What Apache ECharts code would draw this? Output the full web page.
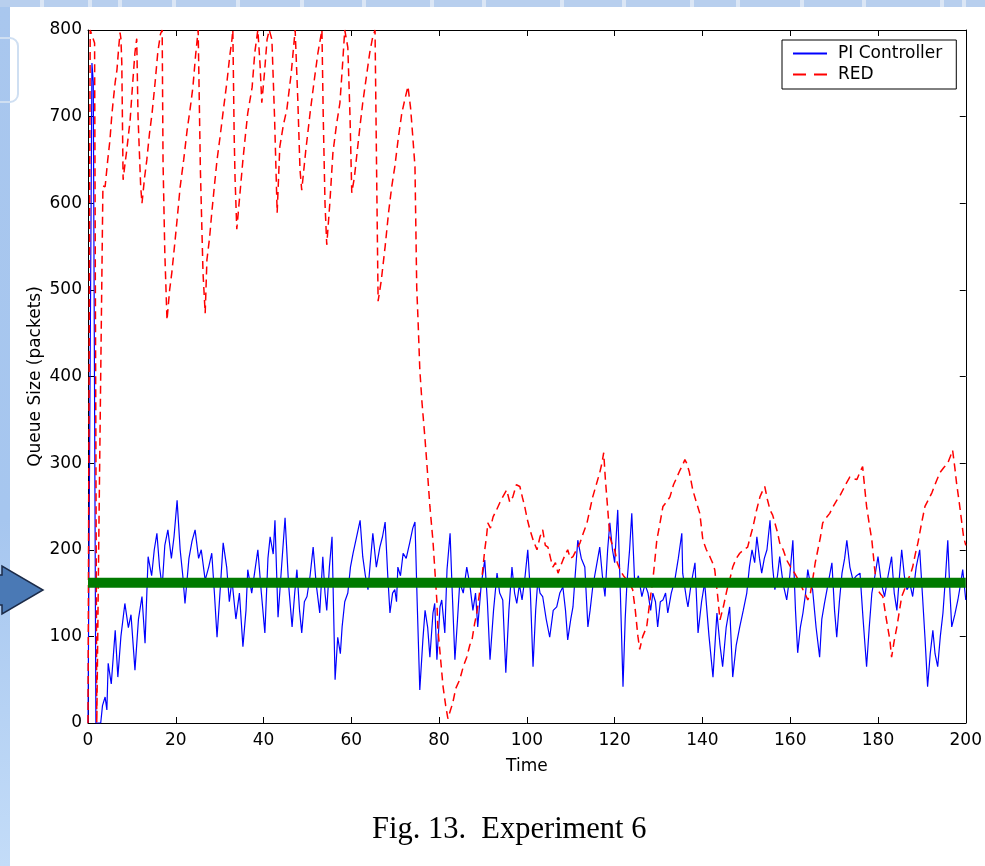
<!DOCTYPE html>
<html>
<head>
<meta charset="utf-8">
<script src="https://cdn.jsdelivr.net/npm/echarts@6/dist/echarts.min.js"></script>
<style>
  html, body { margin: 0; padding: 0; background: #fff; }
  #chart { width: 985px; height: 866px; }
</style>
</head>
<body>
<div id="chart"></div>
<script>
// values: [time, queue size in packets]
let piController = [
  [0,0],[0.4,0],[0.9,762],[1.2,740],[1.8,0],[2.9,0],[3.3,20],[3.9,30],[4.3,15],[4.6,69],[5.3,45],[6.2,107],[6.8,53],[7.5,100],
  [8.4,138],[9.2,110],[9.8,125],[10.7,61],[11.5,120],[12.3,146],[13,92],[13.7,192],[14.5,170],[15.1,200],[15.7,219],[16.3,180],
  [16.9,157],[17.5,205],[18.2,223],[19,190],[19.6,215],[20.3,257],[21,200],[21.6,170],[22.1,138],[23,190],[23.7,210],[24.4,223],
  [25.2,190],[25.8,200],[26.7,165],[27.5,180],[28.2,196],[28.8,150],[29.4,99],[30.2,160],[30.8,208],[31.6,180],[32.2,140],
  [32.8,165],[33.7,120],[34.5,150],[35.3,88],[36,130],[36.4,177],[37.3,150],[38,175],[38.7,200],[39.5,150],[40.3,104],[41,190],
  [41.5,215],[42.2,195],[42.6,234],[43.3,122],[44.1,180],[44.9,237],[45.7,160],[46.5,111],[47.1,150],[47.6,177],[48.2,130],
  [48.7,104],[49.3,140],[49.9,146],[50.6,170],[51.3,203],[52,160],[52.8,127],[53.5,192],[54,150],[54.4,130],[55,180],[55.6,215],
  [56,120],[56.3,50],[56.9,99],[57.5,80],[57.9,111],[58.5,140],[59.2,150],[59.8,180],[60.4,196],[61.2,215],[62,234],[62.6,192],
  [63.2,170],[63.8,154],[64.4,190],[64.9,219],[65.7,180],[66.5,203],[67.1,215],[67.7,232],[68.3,170],[68.8,127],[69.4,150],
  [69.9,154],[70.3,140],[70.6,180],[71.2,170],[71.8,196],[72.5,190],[73.3,208],[74,225],[74.5,232],[75,140],[75.6,38],[76.3,96],
  [76.8,130],[77.4,110],[77.9,76],[78.6,127],[79,138],[79.5,73],[80.2,134],[80.6,142],[81.3,104],[81.8,177],[82.5,219],[83,150],
  [83.6,73],[84.2,120],[84.7,162],[85.5,150],[86.3,180],[87,160],[87.7,130],[88.3,150],[88.8,111],[89.6,160],[90.4,188],[91,140],
  [91.6,73],[92.4,130],[93.2,173],[93.8,150],[94.5,142],[95.2,58],[95.9,130],[96.6,180],[97.2,150],[97.7,138],[98.3,160],
  [98.9,142],[99.6,170],[100.2,200],[100.8,150],[101.4,65],[102,130],[102.5,165],[103,150],[103.6,146],[104.4,120],[105.2,99],
  [106,130],[106.8,134],[107.5,150],[108.2,157],[108.8,130],[109.3,96],[110,120],[110.5,134],[111,170],[111.6,211],[112.4,190],
  [113.2,180],[113.9,111],[114.4,130],[115,157],[115.8,180],[116.6,203],[117.2,170],[117.8,146],[118.4,200],[118.9,231],
  [119.5,200],[120,185],[120.7,246],[121.3,150],[121.9,42],[122.4,120],[122.8,162],[123.4,200],[123.9,242],[124.6,157],
  [125.4,170],[126.2,146],[126.9,160],[127.6,150],[128.2,130],[128.7,150],[129.3,140],[129.8,111],[130.4,140],[131,142],
  [131.6,150],[132.1,127],[132.9,150],[133.7,165],[134.5,190],[135.3,219],[135.5,173],[136.4,142],[136.7,134],[137.4,160],
  [138.3,185],[139,104],[139.8,140],[140.5,162],[141.5,100],[142.4,53],[143.3,127],[144,90],[144.6,65],[145.4,110],[146.2,134],
  [146.9,53],[147.7,90],[148.5,111],[149.3,130],[150.1,150],[150.7,180],[151.3,200],[151.9,185],[152.4,215],[153,190],[153.5,173],
  [154.1,190],[154.7,200],[155.4,234],[156,180],[156.5,154],[157.1,170],[157.6,192],[158.4,160],[159.2,142],[159.9,170],
  [160.6,211],[161.2,130],[161.7,81],[162.3,110],[162.9,127],[163.5,150],[164,177],[164.6,160],[165.1,154],[165.9,110],[166.7,76],
  [167.2,120],[167.8,138],[168.6,160],[169.5,185],[170.1,130],[170.6,99],[171.2,140],[171.8,173],[172.4,190],[172.9,211],
  [173.6,180],[174.3,165],[175.1,170],[175.9,173],[176.6,120],[177.4,65],[178,110],[178.6,150],[179.3,170],[180,192],[180.8,160],
  [181.5,146],[182.3,170],[183.1,192],[183.7,150],[184.3,130],[184.9,170],[185.4,200],[186,170],[186.6,154],[187.3,160],
  [187.9,146],[188.7,180],[189.5,200],[190.1,150],[190.7,99],[191.3,42],[191.9,80],[192.5,107],[193,80],[193.6,65],[194.2,100],
  [194.8,127],[195.4,170],[195.9,211],[196.4,150],[196.8,111],[197.5,125],[198.2,142],[198.8,160],[199.3,177],[200,142]
]

let red = [
  [0,0],[0.5,800],[1.5,785],[2,0],[2.3,0],[2.5,230],[3.4,620],[3.9,619],[4.5,650],[5,673],[5.4,700],[5.7,716],[6.2,740],[6.6,754],
  [7,780],[7.3,797],[7.5,790],[7.7,762],[8,627],[8.3,640],[8.8,660],[9.6,696],[10.2,740],[10.7,774],[11.1,790],[11.4,700],[12,620],
  [12.3,600],[12.9,630],[13.4,650],[14,680],[14.6,704],[15.3,740],[15.9,774],[16.5,795],[16.9,800],[17.1,647],[17.5,543],[18,465],
  [18.6,500],[19.1,520],[19.8,555],[20.3,581],[21,619],[21.8,650],[22.6,685],[23.3,710],[23.9,734],[24.5,770],[24.8,785],[25.1,800],
  [25.6,640],[26.2,520],[26.7,473],[27.1,535],[27.7,560],[28.2,589],[28.8,620],[29.4,650],[30.1,677],[30.9,710],[31.7,742],
  [32.3,770],[32.8,789],[33,800],[33.3,680],[33.5,630],[33.9,570],[34.6,610],[35.3,650],[35.9,680],[36.4,704],[37.4,734],[38,774],
  [38.7,800],[39.2,760],[39.6,716],[40.2,750],[40.8,789],[41.3,800],[41.9,789],[42.5,700],[43.1,589],[43.7,665],[44.5,690],
  [45.3,708],[46.3,750],[47.2,800],[47.8,720],[48.3,639],[48.7,615],[49.6,660],[50.6,704],[51.5,740],[52.4,774],[53.3,800],
  [53.6,700],[54,600],[54.4,552],[55.1,600],[55.8,658],[56.6,690],[57.4,716],[58,760],[58.5,800],[59.2,780],[59.7,700],[60.1,612],
  [60.7,630],[61.3,658],[62,690],[62.6,716],[63.4,745],[64.2,774],[64.8,790],[65.4,800],[65.8,619],[66.1,487],[66.8,510],
  [67.7,550],[68.5,590],[69.2,619],[69.9,642],[70.7,675],[71.5,704],[72.2,720],[72.9,735],[73.5,710],[74,677],[74.5,642],
  [74.9,503],[75.2,465],[75.6,408],[76.1,370],[76.8,327],[77.2,300],[77.9,250],[78.6,210],[79.5,140],[79.7,110],[80.9,42],
  [81.5,20],[82,5],[82.6,15],[83.1,23],[83.8,40],[84.7,50],[85.5,65],[86.3,76],[87,90],[87.5,96],[88.1,115],[88.6,127],[89.2,150],
  [89.7,165],[90.4,200],[90.8,215],[91.1,231],[91.7,225],[92.3,238],[93,245],[93.8,254],[94.6,262],[95.4,269],[96.1,255],
  [96.8,261],[97.6,275],[98.4,273],[99,260],[99.5,250],[100.1,235],[100.7,223],[101.5,210],[102.3,200],[103,215],[103.6,223],
  [104.2,205],[104.8,203],[105.4,190],[105.9,180],[106.5,185],[107.1,173],[107.6,180],[108.2,188],[108.8,195],[109.3,200],
  [109.9,190],[110.5,192],[111.3,200],[112.1,208],[112.9,220],[113.7,231],[114.3,245],[115,261],[115.8,275],[116.6,289],
  [117.1,300],[117.5,312],[117.9,280],[118.2,261],[118.6,235],[118.9,215],[119.5,205],[120,200],[120.6,185],[121.2,177],[122,170],
  [122.8,165],[123.5,160],[124.1,154],[124.7,130],[125.3,100],[125.7,85],[126.4,100],[127.3,111],[128,140],[128.7,165],
  [129.2,190],[129.6,211],[130.3,230],[131,250],[131.8,255],[132.6,261],[133.4,275],[134.2,284],[134.9,292],[135.5,298],[136,304],
  [136.4,300],[137,290],[137.8,269],[138.6,255],[139.4,242],[140.1,211],[140.9,200],[141.7,192],[142.3,185],[142.8,177],
  [143.4,150],[144,119],[144.8,135],[145.6,154],[146.2,165],[146.9,180],[147.7,190],[148.5,196],[149.4,200],[150.3,203],
  [150.9,215],[151.5,226],[152.3,245],[153.1,261],[153.7,268],[154.2,273],[154.8,258],[155.4,246],[156,240],[156.5,231],
  [157.1,220],[157.6,208],[158.4,200],[159.2,188],[160.1,180],[161,173],[161.9,165],[162.9,154],[163.5,148],[164,142],[164.6,150],
  [165.1,165],[165.7,185],[166.3,200],[166.9,215],[167.4,231],[168.2,237],[169,242],[169.8,250],[170.6,257],[171.3,262],[172,269],
  [172.8,277],[173.6,284],[174.4,282],[175.2,281],[175.9,290],[176.5,296],[177,270],[177.4,250],[178,230],[178.6,211],[179.2,180],
  [179.7,157],[180.4,150],[181.1,146],[181.9,120],[182.7,96],[183.1,76],[183.7,95],[184.3,111],[184.9,130],[185.4,146],
  [186.1,155],[186.8,165],[187.4,172],[187.9,180],[188.5,195],[189.1,208],[189.9,230],[190.7,250],[191.5,258],[192.3,266],
  [193.2,278],[194.1,289],[195,295],[195.9,300],[196.5,308],[197,315],[197.5,295],[197.9,277],[198.5,255],[199.1,231],
  [199.5,215],[200,205]
]

// green reference level drawn over the plot
let targetLevel = 162
let timeRange = [0, 200]

let xTicks = { min: 0, max: 200, interval: 20 }
let yTicks = { min: 0, max: 800, interval: 100 }

let sans = '"DejaVu Sans", sans-serif'
let axisColor = '#000'
let fontSize = 17

let chart = echarts.init(document.getElementById('chart'))

let tickAxis = {
  axisLine: { show: true, onZero: false, lineStyle: { color: axisColor, width: 1 } },
  axisTick: { show: true, inside: true, length: 6, lineStyle: { color: axisColor } },
  splitLine: { show: false },
}
let labelStyle = { fontFamily: sans, fontSize: fontSize, color: '#000' }

let option = {
  animation: false,
  backgroundColor: '#fff',
  title: {
    text: 'Fig. 13.  Experiment 6',
    left: 367,
    top: 809,
    textStyle: { fontFamily: '"Liberation Serif", "Times New Roman", serif', fontSize: 30.5, fontWeight: 'normal', color: '#000' },
  },
  grid: { left: 88, top: 30, width: 878, height: 693 },
  legend: {
    data: [
      { name: 'PI Controller', icon: 'path://M0,0h34v2h-34z' },
      { name: 'RED', icon: 'path://M0,0h13v2h-13z M21,0h13v2h-13z' },
    ],
    orient: 'vertical',
    left: 782,
    top: 40,
    itemWidth: 34,
    itemHeight: 2,
    itemGap: 4,
    padding: [5, 14, 6, 11],
    borderColor: '#000',
    borderWidth: 1,
    backgroundColor: '#fff',
    textStyle: { ...labelStyle, padding: [0, 0, 0, 6] },
  },
  xAxis: [
    {
      type: 'value', position: 'bottom', ...xTicks, ...tickAxis,
      name: 'Time', nameLocation: 'middle', nameGap: 35,
      nameTextStyle: labelStyle,
      axisLabel: { ...labelStyle, margin: 9 },
    },
    { type: 'value', position: 'top', ...xTicks, ...tickAxis, axisLabel: { show: false } },
  ],
  yAxis: [
    {
      type: 'value', position: 'left', ...yTicks, ...tickAxis,
      name: 'Queue Size (packets)', nameLocation: 'middle', nameGap: 44, nameRotate: 90,
      nameMoveOverlap: false,
      nameTextStyle: labelStyle,
      axisLabel: { ...labelStyle, margin: 6 },
    },
    { type: 'value', position: 'right', ...yTicks, ...tickAxis, axisLabel: { show: false } },
  ],
  series: [
    {
      name: 'PI Controller',
      type: 'line',
      data: piController,
      symbol: 'none',
      z: 2,
      lineStyle: { color: '#0000ff', width: 1.2 },
      itemStyle: { color: '#0000ff' },
    },
    {
      name: 'RED',
      type: 'line',
      data: red,
      symbol: 'none',
      z: 3,
      lineStyle: { color: '#ff0000', width: 1.5, type: [8, 5] },
      itemStyle: { color: '#ff0000' },
    },
    {
      name: 'target',
      type: 'line',
      data: timeRange.map((t) => [t, targetLevel]),
      symbol: 'none',
      z: 5,
      lineStyle: { color: '#007a00', width: 10, cap: 'butt' },
      silent: true,
    },
  ],
  graphic: [
    // slide background strips
    {
      type: 'rect', z: -10, silent: true,
      shape: { x: 0, y: 0, width: 10, height: 866 },
      style: { fill: new echarts.graphic.LinearGradient(0, 0, 0, 1, [
        { offset: 0, color: '#a9c7ee' },
        { offset: 0.6, color: '#a6c6ef' },
        { offset: 1, color: '#c3dcf8' },
      ]) },
    },
    { type: 'rect', z: -10, silent: true, shape: { x: 0, y: 0, width: 985, height: 7 }, style: { fill: '#b8cfee' } },
    { type: 'group', z: -9, silent: true, children: [40, 88, 118, 172, 236, 300, 362, 430, 482, 560, 622, 690, 736, 800, 862, 940, 962].map((x) => ({
      type: 'rect', shape: { x: x, y: 0, width: 4, height: 7 }, style: { fill: '#dbe6f5' },
    })) },
    { type: 'rect', z: -9, silent: true, shape: { x: -20, y: 38, width: 38, height: 64, r: 8 }, style: { fill: 'none', stroke: '#cfdff2', lineWidth: 2 } },
    // pointer arrow at the left
    {
      type: 'polygon', z: 20, silent: true,
      shape: { points: [[-5, 575], [2, 575], [2, 566], [43, 590], [2, 614], [2, 605], [-5, 605]] },
      style: { fill: '#4a79b5', stroke: '#1c2b48', lineWidth: 1.5 },
    },
  ],
}

chart.setOption(option)
</script>
</body>
</html>
